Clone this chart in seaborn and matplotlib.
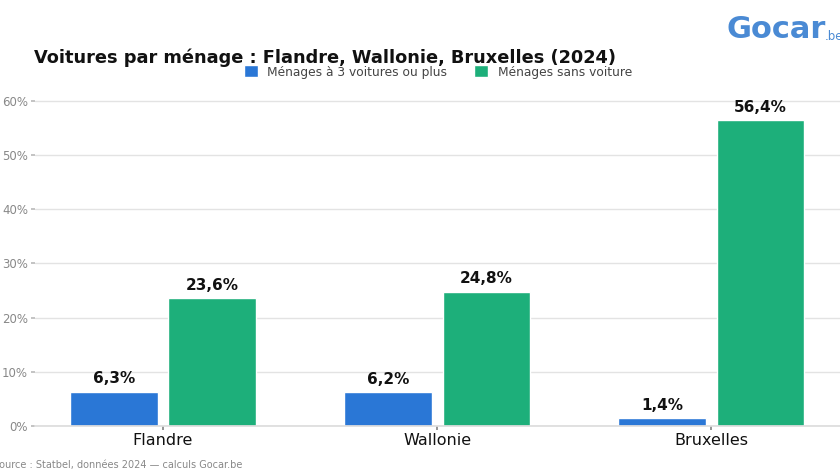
#!/usr/bin/env python3
"""Voitures par ménage : Flandre, Wallonie, Bruxelles (2024)."""
import matplotlib
matplotlib.use("Agg")
import matplotlib.pyplot as plt
import pandas as pd
import seaborn as sns

regions = ["Flandre", "Wallonie", "Bruxelles"]
three_plus = [6.3, 6.2, 1.4]
no_car = [23.6, 24.8, 56.4]
series = ["Ménages à 3 voitures ou plus", "Ménages sans voiture"]
colors = ["#2A77D6", "#1DAF7A"]

df = pd.DataFrame({
    "region": regions * 2,
    "serie": [series[0]] * 3 + [series[1]] * 3,
    "value": three_plus + no_car,
})

sns.set_theme(style="white")
plt.rcParams["font.family"] = ["DejaVu Sans"]

fig = plt.figure(figsize=(8.4, 4.73), dpi=100)
ax = fig.add_axes([35 / 840, 47 / 473, 1 - 35 / 840, 1 - 47 / 473 - 90 / 473])

sns.barplot(data=df, x="region", y="value", hue="serie", order=regions,
            hue_order=series, palette=colors, width=0.72, gap=0.11,
            saturation=1, ax=ax, legend=True)

for cont in ax.containers:
    ax.bar_label(cont, labels=[f"{v:.1f}%".replace(".", ",") for v in cont.datavalues],
                 padding=4, fontsize=11, fontweight="bold", color="#111111")

ax.set_ylim(0, 62)
ax.set_xlim(-0.467, 2.47)
ax.set_yticks(range(0, 61, 10))
ax.set_yticklabels([f"{t}%" for t in range(0, 61, 10)])
ax.yaxis.grid(True, color="#e3e3e3", linewidth=1)
ax.set_axisbelow(True)
ax.tick_params(axis="y", labelsize=8.5, labelcolor="#888888", length=3,
               color="#bbbbbb", left=True, pad=2)
ax.tick_params(axis="x", labelsize=11.5, labelcolor="#111111", length=3,
               color="#888888", bottom=True, pad=2)
ax.set_xlabel("")
ax.set_ylabel("")
for s in ["top", "right", "left"]:
    ax.spines[s].set_visible(False)
ax.spines["bottom"].set_color("#dddddd")

handles, labels = ax.get_legend_handles_labels()
ax.legend(handles, labels, ncol=2, frameon=False, loc="center",
          bbox_to_anchor=(438 / 840, 1 - 72 / 473), bbox_transform=fig.transFigure,
          fontsize=8.8, labelcolor="#444444", handlelength=1.1, handleheight=1.1,
          columnspacing=2.2, handletextpad=0.8)

fig.text(34 / 840, 1 - 58 / 473, "Voitures par ménage : Flandre, Wallonie, Bruxelles (2024)",
         fontsize=12.8, fontweight="bold", color="#111111", va="center", ha="left")
fig.text(-7 / 840, 1 - 465 / 473, "Source : Statbel, données 2024 — calculs Gocar.be",
         fontsize=7, color="#888888", va="center", ha="left")
fig.text(826 / 840, 1 - 30 / 473, "Gocar", fontsize=22, fontweight="bold",
         color="#4A8AD4", va="center", ha="right")
fig.text(825 / 840, 1 - 37 / 473, ".be", fontsize=8.5, color="#4A8AD4",
         va="center", ha="left")

fig.savefig("out.png", dpi=100)
